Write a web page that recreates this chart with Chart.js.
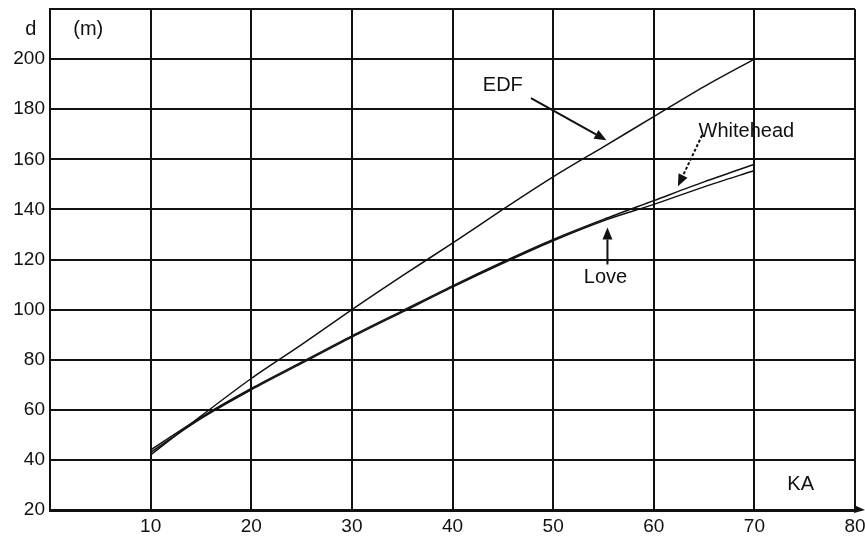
<!DOCTYPE html>
<html>
<head>
<meta charset="utf-8">
<script src="https://cdn.jsdelivr.net/npm/chart.js@4"></script>
<style>
  body { margin: 0; background: #fff; }
  canvas { display: block; }
</style>
</head>
<body>
<canvas id="grafico" width="865" height="538"></canvas>
<script>
// --- Dados ---
const ka = [10, 15, 20, 25, 30, 35, 40, 45, 50, 55, 60, 65, 70];
const edf = [42, 57.5, 72.5, 86, 100, 113.5, 126.5, 140, 153, 165, 177, 189, 200];
const whitehead = [44, 57, 68.5, 79, 89.5, 99.5, 109.5, 119, 128, 136, 143.5, 151, 158];
const love = [43, 56.5, 68, 78.5, 89, 99, 109, 118.5, 127.5, 135.5, 142, 149, 155.5];

const xTicks = [10, 20, 30, 40, 50, 60, 70, 80];
const yTicks = [20, 40, 60, 80, 100, 120, 140, 160, 180, 200];

// Textos e setas (em unidades dos eixos)
const textos = [
    { t: 'EDF', x: 45.0, y: 189.6 },
    { t: 'Whitehead', x: 69.2, y: 171.2 },
    { t: 'Love', x: 55.2, y: 112.8 },
    { t: 'KA', x: 74.6, y: 30 },
    { t: '(m)', x: 3.8, y: 212 },
    { t: 'd', x: -1.9, y: 212 }
];
const setas = [
    { x1: 47.8, y1: 184.4, x2: 55.3, y2: 167.6, tracejada: false },
    { x1: 64.8, y1: 169.6, x2: 62.4, y2: 149.2, tracejada: true },
    { x1: 55.4, y1: 118, x2: 55.4, y2: 132.8, tracejada: false }
];

const COR = '#111';
const FONTE = '"Liberation Sans", Arial, sans-serif';

function pontos(valores) {
    return ka.map((x, i) => ({ x: x, y: valores[i] }));
}

function serie(label, valores) {
    return {
        label: label,
        data: pontos(valores),
        borderColor: COR,
        borderWidth: 1.5,
        pointRadius: 0,
        tension: 0.3,
        fill: false
    };
}

// Desenha uma seta com ponta triangular
function desenharSeta(ctx, x1, y1, x2, y2, tracejada) {
    const ang = Math.atan2(y2 - y1, x2 - x1);
    const comp = 12, larg = 5;
    const bx = x2 - comp * Math.cos(ang), by = y2 - comp * Math.sin(ang);
    ctx.save();
    ctx.strokeStyle = COR;
    ctx.fillStyle = COR;
    ctx.lineWidth = 2;
    if (tracejada) ctx.setLineDash([3, 2]);
    ctx.beginPath();
    ctx.moveTo(x1, y1);
    ctx.lineTo(bx, by);
    ctx.stroke();
    ctx.setLineDash([]);
    ctx.beginPath();
    ctx.moveTo(x2, y2);
    ctx.lineTo(bx + larg * Math.sin(ang), by - larg * Math.cos(ang));
    ctx.lineTo(bx - larg * Math.sin(ang), by + larg * Math.cos(ang));
    ctx.closePath();
    ctx.fill();
    ctx.restore();
}

const anotacoes = {
    id: 'anotacoes',
    afterDraw(chart) {
        const ctx = chart.ctx;
        const sx = chart.scales.x, sy = chart.scales.y;
        ctx.save();
        ctx.fillStyle = COR;
        ctx.font = '20px ' + FONTE;
        ctx.textAlign = 'center';
        ctx.textBaseline = 'middle';
        textos.forEach(a => {
            ctx.fillText(a.t, sx.getPixelForValue(a.x), sy.getPixelForValue(a.y));
        });
        ctx.restore();

        setas.forEach(s => {
            desenharSeta(ctx,
                sx.getPixelForValue(s.x1), sy.getPixelForValue(s.y1),
                sx.getPixelForValue(s.x2), sy.getPixelForValue(s.y2),
                s.tracejada);
        });

        // Ponta de seta no fim do eixo x
        const xf = sx.right, yb = sy.bottom;
        ctx.save();
        ctx.fillStyle = COR;
        ctx.beginPath();
        ctx.moveTo(xf + 10, yb);
        ctx.lineTo(xf - 1, yb - 5);
        ctx.lineTo(xf - 1, yb + 3);
        ctx.closePath();
        ctx.fill();
        ctx.restore();
    }
};

new Chart(document.getElementById('grafico'), {
    type: 'line',
    data: {
        datasets: [serie('EDF', edf), serie('Whitehead', whitehead), serie('Love', love)]
    },
    options: {
        responsive: false,
        animation: false,
        layout: { padding: { left: 0, right: 10, top: 9, bottom: 0 } },
        plugins: {
            legend: { display: false },
            tooltip: { enabled: false }
        },
        scales: {
            x: {
                type: 'linear',
                min: 0,
                max: 80,
                afterBuildTicks: s => { s.ticks = [0].concat(xTicks).map(v => ({ value: v })); },
                afterFit: s => { s.height = 28; s.paddingLeft = 0; s.paddingRight = 0; },
                ticks: {
                    callback: v => (xTicks.includes(v) ? v : ''),
                    color: COR,
                    font: { family: FONTE, size: 19 },
                    padding: 5,
                    maxRotation: 0,
                    autoSkip: false
                },
                grid: { color: COR, lineWidth: 2, drawTicks: false },
                border: { color: COR, width: 3 }
            },
            y: {
                min: 20,
                max: 220,
                afterBuildTicks: s => { s.ticks = yTicks.concat([220]).map(v => ({ value: v })); },
                afterFit: s => { s.width = 50; s.paddingTop = 0; s.paddingBottom = 0; },
                ticks: {
                    callback: v => (yTicks.includes(v) ? v : ''),
                    color: COR,
                    font: { family: FONTE, size: 19 },
                    padding: 5,
                    autoSkip: false
                },
                grid: { color: COR, lineWidth: 2, drawTicks: false },
                border: { color: COR, width: 2 }
            }
        }
    },
    plugins: [anotacoes]
});
</script>
</body>
</html>
